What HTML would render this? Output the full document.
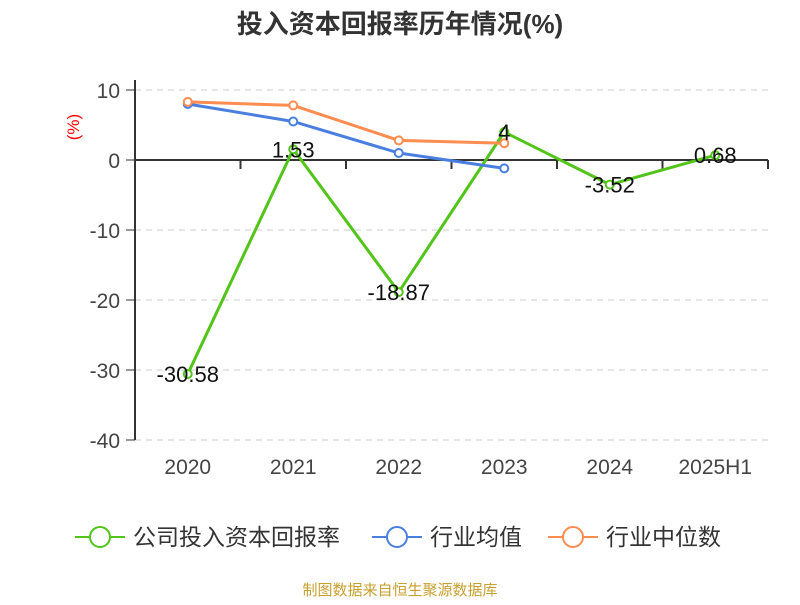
<!DOCTYPE html>
<html><head><meta charset="utf-8"><style>
body{margin:0;background:#fff;width:800px;height:600px;overflow:hidden;font-family:"Liberation Sans","Noto Sans CJK SC",sans-serif}
</style></head><body>
<svg id="c" width="800" height="600" xmlns="http://www.w3.org/2000/svg" font-family="Liberation Sans, Noto Sans CJK SC, sans-serif"></svg>
<script>
const categories=["2020","2021","2022","2023","2024","2025H1"];
const companyValues=[-30.58,1.53,-18.87,4,-3.52,0.68];
const companyLabels=["-30.58","1.53","-18.87","4","-3.52","0.68"];
const avgValues=[8.0,5.5,1.0,-1.2];
const medianValues=[8.3,7.8,2.8,2.4];
const yTicks=[10,0,-10,-20,-30,-40];
const svg=document.getElementById('c');
const NS='http://www.w3.org/2000/svg';
const x0=135,x1=768,bw=(x1-x0)/categories.length;
const X=i=>x0+bw*(i+0.5);
const Y=v=>160-v*7;
function mk(t,a,txt){const e=document.createElementNS(NS,t);for(const k in a)e.setAttribute(k,a[k]);if(txt!==undefined)e.textContent=txt;svg.appendChild(e);return e;}
let e;
e=mk('text',{x:400,y:33,'text-anchor':'middle','font-size':26,'font-weight':'bold',fill:'#333'},'投入资本回报率历年情况(%)');

e=mk('text',{x:79,y:127,'text-anchor':'middle','font-size':17,fill:'red',transform:'rotate(-90 79 127)'},'(%)');

yTicks.forEach(v=>{
 if(v!==0){e=mk('line',{x1:x0,x2:x1,y1:Y(v),y2:Y(v),stroke:'#ccc','stroke-dasharray':'6,5'});
 }
 e=mk('line',{x1:x0-9,x2:x0,y1:Y(v),y2:Y(v),stroke:'#333'});
 
 e=mk('text',{x:x0-15,y:Y(v)+8,'text-anchor':'end','font-size':21,fill:'#444'},String(v));
 
});
e=mk('line',{x1:x0,x2:x0,y1:80,y2:440,stroke:'#333','stroke-width':2});

e=mk('line',{x1:x0,x2:x1,y1:Y(0),y2:Y(0),stroke:'#333','stroke-width':2});

categories.forEach((c,i)=>{
 e=mk('line',{x1:x0+bw*(i+1),x2:x0+bw*(i+1),y1:160,y2:169,stroke:'#333','stroke-width':2});
 
 e=mk('text',{x:X(i),y:474,'text-anchor':'middle','font-size':21,fill:'#444'},c);
 
});
function series(vals,color,name){
 e=mk('polyline',{points:vals.map((v,i)=>X(i)+','+Y(v)).join(' '),fill:'none',stroke:color,'stroke-width':3,'stroke-linejoin':'round'});
 
 vals.forEach((v,i)=>{e=mk('circle',{cx:X(i),cy:Y(v),r:4,fill:'#fff',stroke:color,'stroke-width':2});
 });
}
series(companyValues,'#52c41a','company');
series(avgValues,'#4a7fe0','industry-avg');
series(medianValues,'#ff8c50','industry-median');
companyValues.forEach((v,i)=>{
 e=mk('text',{x:X(i),y:Y(v)+8,'text-anchor':'middle','font-size':22,fill:'#111'},companyLabels[i]);
 
});
const legend=[["公司投入资本回报率","#52c41a",75],["行业均值","#4a7fe0",372],["行业中位数","#ff8c50",548]];
legend.forEach(([t,c,x])=>{
 e=mk('line',{x1:x,x2:x+50,y1:537,y2:537,stroke:c,'stroke-width':2});
 
 e=mk('circle',{cx:x+25,cy:537,r:10,fill:'#fff',stroke:c,'stroke-width':2});
 
 e=mk('text',{x:x+58,y:545,'font-size':23,fill:'#333'},t);
 
});
e=mk('text',{x:400,y:595,'text-anchor':'middle','font-size':15,fill:'#c8a030'},'制图数据来自恒生聚源数据库');

</script>
</body></html>
